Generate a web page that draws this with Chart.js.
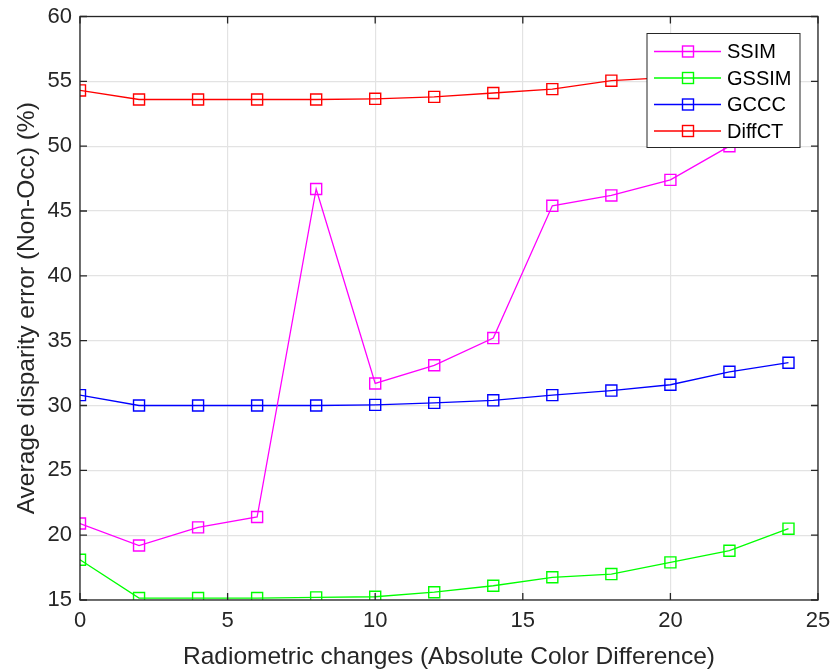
<!DOCTYPE html>
<html>
<head>
<meta charset="utf-8">
<script src="https://cdn.jsdelivr.net/npm/chart.js@4.4.0/dist/chart.umd.min.js"></script>
<style>
  html, body { margin: 0; padding: 0; background: #fff; }
  #myChart { display: block; }
</style>
</head>
<body>
<canvas id="myChart" width="831" height="670" style="width:831px;height:670px"></canvas>
<script>
// data
const xValues = [0, 2, 4, 6, 8, 10, 12, 14, 16, 18, 20, 22, 24];
const ssim   = [20.9, 19.2, 20.6, 21.4, 46.7, 31.7, 33.1, 35.2, 45.4, 46.2, 47.4, 50.0, 53.5];
const gssim  = [18.1, 15.15, 15.15, 15.15, 15.2, 15.25, 15.6, 16.1, 16.75, 17.0, 17.9, 18.8, 20.5];
const gccc   = [30.8, 30.0, 30.0, 30.0, 30.0, 30.05, 30.2, 30.4, 30.8, 31.15, 31.6, 32.6, 33.3];
const diffct = [54.3, 53.6, 53.6, 53.6, 53.6, 53.65, 53.8, 54.1, 54.4, 55.05, 55.3, 55.8, 56.5];
const seriesNames = ['SSIM', 'GSSIM', 'GCCC', 'DiffCT'];
const seriesColors = ['#ff00ff', '#00ff00', '#0000ff', '#ff0000'];

const FONT = "'Liberation Sans', Arial, sans-serif";
const INK = '#262626';

const makeSet = (label, vals, color) => ({
    label: label,
    data: vals.map((v, i) => ({x: xValues[i], y: v})),
    borderColor: color,
    backgroundColor: 'rgba(0,0,0,0)',
    borderWidth: 1.3,
    pointStyle: 'rect',
    pointRadius: 7.8,
    pointBorderWidth: 1.4,
    pointBorderColor: color,
    pointBackgroundColor: 'rgba(0,0,0,0)',
    tension: 0
});

// box + inward ticks, matlab style
const boxPlugin = {
    id: 'box',
    afterDatasetsDraw(chart) {
        const {ctx, chartArea: a, scales} = chart;
        ctx.save();
        ctx.strokeStyle = INK;
        ctx.lineWidth = 1.3;
        ctx.strokeRect(a.left, a.top, a.right - a.left, a.bottom - a.top);
        scales.x.ticks.forEach(t => {
            const px = scales.x.getPixelForValue(t.value);
            ctx.beginPath();
            ctx.moveTo(px, a.bottom); ctx.lineTo(px, a.bottom - 7);
            ctx.moveTo(px, a.top); ctx.lineTo(px, a.top + 7);
            ctx.stroke();
        });
        scales.y.ticks.forEach(t => {
            const py = scales.y.getPixelForValue(t.value);
            ctx.beginPath();
            ctx.moveTo(a.left, py); ctx.lineTo(a.left + 7, py);
            ctx.moveTo(a.right, py); ctx.lineTo(a.right - 7, py);
            ctx.stroke();
        });
        ctx.restore();
    }
};

// legend with line + square sample
const legendPlugin = {
    id: 'boxLegend',
    afterDraw(chart) {
        const {ctx, chartArea: a} = chart;
        const x0 = a.right - 171, y0 = a.top + 17, w = 153, h = 114;
        ctx.save();
        ctx.fillStyle = '#fff';
        ctx.fillRect(x0, y0, w, h);
        ctx.strokeStyle = INK;
        ctx.lineWidth = 1;
        ctx.strokeRect(x0, y0, w, h);
        ctx.font = '20px ' + FONT;
        ctx.textBaseline = 'middle';
        chart.data.datasets.forEach((ds, i) => {
            const y = y0 + 18 + i * 26.5;
            ctx.strokeStyle = ds.borderColor;
            ctx.lineWidth = 1.3;
            ctx.beginPath();
            ctx.moveTo(x0 + 7, y); ctx.lineTo(x0 + 74, y);
            ctx.stroke();
            ctx.lineWidth = 1.4;
            ctx.strokeRect(x0 + 35.5, y - 5.5, 11, 11);
            ctx.fillStyle = '#000';
            ctx.fillText(ds.label, x0 + 80, y + 1);
        });
        ctx.restore();
    }
};

const config = {
    type: 'line',
    data: {
        datasets: [
            makeSet(seriesNames[0], ssim, seriesColors[0]),
            makeSet(seriesNames[1], gssim, seriesColors[1]),
            makeSet(seriesNames[2], gccc, seriesColors[2]),
            makeSet(seriesNames[3], diffct, seriesColors[3])
        ]
    },
    options: {
        responsive: false,
        animation: false,
        devicePixelRatio: 1,
        layout: { padding: { top: 16.5, right: 13, left: 0, bottom: 0 } },
        plugins: {
            legend: { display: false },
            tooltip: { enabled: false }
        },
        scales: {
            x: {
                type: 'linear',
                min: 0, max: 25,
                ticks: { stepSize: 5, color: INK, font: { family: FONT, size: 22 }, padding: 8, maxRotation: 0 },
                grid: { color: '#e3e3e3', lineWidth: 1.2, drawTicks: false },
                border: { display: false },
                title: { display: true, text: 'Radiometric changes (Absolute Color Difference)', color: INK, font: { family: FONT, size: 24.5 }, padding: { top: 0, bottom: -2 } },
                afterFit: s => { s.height = 70; s.paddingLeft = 0; s.paddingRight = 0; }
            },
            y: {
                min: 15, max: 60,
                ticks: { stepSize: 5, color: INK, font: { family: FONT, size: 22 }, padding: 8 },
                grid: { color: '#e3e3e3', lineWidth: 1.2, drawTicks: false },
                border: { display: false },
                title: { display: true, text: 'Average disparity error (Non-Occ) (%)', color: INK, font: { family: FONT, size: 24.5 }, padding: { top: 13, bottom: 0 } },
                afterFit: s => { s.width = 80; s.paddingTop = 0; s.paddingBottom = 0; }
            }
        }
    },
    plugins: [boxPlugin, legendPlugin]
};

new Chart(document.getElementById('myChart'), config);
</script>
</body>
</html>
